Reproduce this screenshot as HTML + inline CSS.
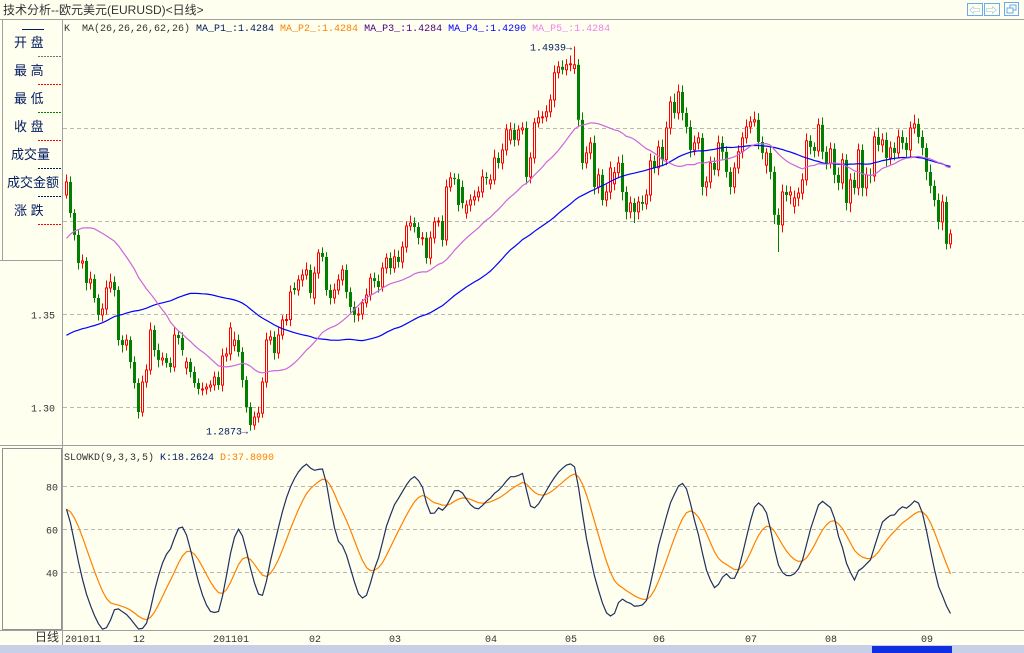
<!DOCTYPE html>
<html><head><meta charset="utf-8">
<style>
html,body{margin:0;padding:0;background:#FFFFEF;}
body{width:1024px;height:653px;overflow:hidden;position:relative;font-family:"Liberation Mono","Noto Sans CJK SC",monospace;}
svg{position:absolute;left:0;top:0;}
text{font-family:"Liberation Mono","Noto Sans CJK SC",monospace;font-size:10px;}
.cn{font-family:"Liberation Sans","Noto Sans CJK SC",sans-serif;font-size:13px;fill:#001a60;}
</style></head>
<body>
<svg id="chart" width="1024" height="653" xmlns="http://www.w3.org/2000/svg">
  <rect x="0" y="0" width="1024" height="653" fill="#FFFFEF"/>
  <text x="3" y="14" class="cn" style="font-size:12px;fill:#333">技术分析--欧元美元(EURUSD)&lt;日线&gt;</text>
  <line x1="0" y1="19.5" x2="1024" y2="19.5" stroke="#A0A0A0"/>
  <g>
    <rect x="967.5" y="3.5" width="15" height="12" fill="none" stroke="#6AAAF0"/>
    <text x="969" y="14" style="font-size:11px;fill:#6AAAF0">⇦</text>
    <rect x="984.5" y="3.5" width="15" height="12" fill="none" stroke="#6AAAF0"/>
    <text x="986" y="14" style="font-size:11px;fill:#6AAAF0">⇨</text>
    <rect x="1004.5" y="2.5" width="14" height="13" fill="none" stroke="#6AAAF0"/>
    <rect x="1010" y="5" width="6" height="5" fill="none" stroke="#6AAAF0"/>
    <rect x="1007" y="8" width="6" height="5" fill="#FFFFEF" stroke="#6AAAF0"/>
  </g>
  <g>
    <line x1="2.5" y1="20" x2="2.5" y2="260" stroke="#A0A0A0"/>
    <line x1="0" y1="260.5" x2="62" y2="260.5" stroke="#A0A0A0"/>
    <line x1="22" y1="29.5" x2="44" y2="29.5" stroke="#001a60"/>
    <text x="14" y="47" class="cn">开  盘</text>
    <line x1="38" y1="56.5" x2="61" y2="56.5" stroke="#707070" stroke-dasharray="2,1"/>
    <text x="14" y="75" class="cn">最  高</text>
    <line x1="38" y1="84.5" x2="61" y2="84.5" stroke="#FF0000" stroke-dasharray="2,1"/>
    <text x="14" y="103" class="cn">最  低</text>
    <line x1="38" y1="112.5" x2="61" y2="112.5" stroke="#008000" stroke-dasharray="2,1"/>
    <text x="14" y="131" class="cn">收  盘</text>
    <line x1="38" y1="140.5" x2="61" y2="140.5" stroke="#FF0000" stroke-dasharray="2,1"/>
    <text x="11" y="159" class="cn">成交量</text>
    <line x1="38" y1="168.5" x2="61" y2="168.5" stroke="#001a60" stroke-dasharray="2,1"/>
    <text x="7" y="187" class="cn">成交金额</text>
    <line x1="38" y1="196.5" x2="61" y2="196.5" stroke="#001a60" stroke-dasharray="2,1"/>
    <text x="14" y="215" class="cn">涨  跌</text>
    <line x1="38" y1="224.5" x2="61" y2="224.5" stroke="#FF0000" stroke-dasharray="2,1"/>
  </g>
  <rect x="2.5" y="448.5" width="59" height="181" fill="none" stroke="#909090"/>
  <line x1="62.5" y1="20" x2="62.5" y2="645" stroke="#A0A0A0"/>
  <line x1="0" y1="445.5" x2="1024" y2="445.5" stroke="#A0A0A0"/>
  <line x1="0" y1="630.5" x2="1024" y2="630.5" stroke="#A0A0A0"/>
  <text x="64" y="31" xml:space="preserve"><tspan fill="#333">K  MA(26,26,26,62,26) </tspan><tspan fill="#001a60">MA_P1_:1.4284 </tspan><tspan fill="#FF8000">MA_P2_:1.4284 </tspan><tspan fill="#4B0082">MA_P3_:1.4284 </tspan><tspan fill="#0000FF">MA_P4_:1.4290 </tspan><tspan fill="#EE82EE">MA_P5_:1.4284</tspan></text>
  <text x="64" y="460" xml:space="preserve"><tspan fill="#333">SLOWKD(9,3,3,5) </tspan><tspan fill="#001a60">K:18.2624 </tspan><tspan fill="#FF8000">D:37.8090</tspan></text>
  <text x="35" y="641" class="cn" style="font-size:12px;fill:#333">日线</text>
  <rect x="0" y="645" width="1024" height="8" fill="#C8D0E8"/>
  <rect x="872" y="646" width="80" height="7" fill="#1030E0"/>
  <g id="grid"></g><g id="candles"></g><g id="lines"></g><g id="labels"></g>
</svg>
<script>
// prices in pips: price = 1 + v/10000
const priorCloses=[3300,3330,3370,3320,3350,3300,3210,3060,3050,2980,2960,2930,3000,2980,2940,2850,2810,2800,2780,2790,2820,2800,
2850,2960,2920,2870,2830,2780,2830,2770,2840,3090,3160,3200,3180,3310,3440,3490,3590,3560,3640,3690,3720,
3810,3860,3980,4040,4020,3990,4130,4130,4070,4020,4100,3930,4020,4080,4040,4040,4000,3970];
const opens=[4140,4210,4043,3925,3774,3785,3667,3688,3586,3495,
3527,3640,3672,3629,3360,3333,3360,3242,3129,2973,
3134,3199,3414,3306,3253,3263,3237,3215,3387,3371,
3210,3242,3188,3129,3097,3097,3107,3118,3161,3118,
3274,3285,3330,3360,3296,3145,3000,2903,2946,2967,
3134,3360,3377,3290,3387,3468,3470,3640,3629,3683,
3710,3737,3586,3720,3828,3807,3629,3586,3629,3683,
3737,3618,3538,3495,3500,3560,3602,3693,3677,3645,
3747,3801,3747,3807,3780,3860,3973,3989,3968,3909,
3910,3801,3909,3995,4000,3898,4183,4232,4225,4183,
4043,4086,4113,4130,4156,4237,4200,4221,4339,4312,
4382,4436,4490,4436,4490,4500,4237,4339,4528,4555,
4560,4587,4651,4797,4829,4813,4840,4820,4840,4544,
4312,4366,4420,4183,4248,4113,4156,4200,4260,4312,
4156,4049,4097,4049,4102,4092,4140,4323,4286,4398,
4330,4500,4640,4581,4694,4581,4506,4382,4420,4447,
4183,4210,4312,4275,4420,4372,4264,4183,4285,4372,
4447,4506,4533,4544,4425,4300,4366,4264,4033,3979,
4156,4140,4080,4124,4150,4221,4431,4398,4377,4517,
4372,4312,4388,4248,4205,4329,4097,4221,4178,4382,
4178,4248,4242,4452,4409,4436,4339,4393,4366,4452,
4420,4382,4500,4522,4452,4393,4264,4189,4113,3995,
4102,3877];
const closes=[4210,4043,3925,3774,3785,3667,3688,3586,3495,3527,
3640,3672,3629,3360,3333,3360,3242,3129,2973,3134,
3199,3414,3306,3253,3263,3237,3215,3387,3371,3306,
3242,3188,3129,3097,3097,3107,3118,3161,3118,3274,
3285,3425,3360,3296,3145,3000,2903,2946,2967,3134,
3360,3377,3290,3387,3468,3470,3618,3629,3683,3710,
3737,3613,3720,3828,3807,3629,3586,3629,3683,3737,
3618,3538,3495,3500,3560,3602,3693,3677,3645,3747,
3801,3747,3807,3780,3860,3973,3989,3968,3909,3910,
3801,3909,3995,4000,3898,4183,4232,4225,4086,4097,
4086,4113,4130,4156,4237,4230,4221,4339,4312,4382,
4490,4490,4436,4490,4500,4237,4339,4528,4555,4560,
4587,4651,4797,4829,4813,4840,4845,4840,4544,4312,
4366,4420,4183,4248,4113,4156,4285,4260,4312,4156,
4049,4097,4049,4102,4092,4140,4323,4286,4398,4330,
4500,4640,4581,4694,4581,4506,4382,4420,4447,4183,
4210,4312,4275,4420,4372,4264,4183,4285,4372,4447,
4506,4533,4544,4425,4366,4366,4264,4033,3979,4156,
4140,4156,4124,4150,4221,4431,4398,4377,4517,4372,
4312,4388,4248,4205,4329,4097,4221,4178,4382,4178,
4248,4242,4452,4409,4436,4339,4393,4366,4452,4420,
4382,4500,4522,4452,4393,4264,4189,4113,3995,4102,
3877,3930];
const wickUp=[40,30,20,25,35,20,40,25,20,30,40,45,30,20,25,30,20,30,25,35,
30,40,25,35,30,25,30,45,20,30,25,20,30,25,35,20,25,30,30,40,
35,30,45,30,25,20,25,30,35,25,40,35,30,40,25,30,35,30,25,30,
40,30,35,20,30,25,30,35,30,25,30,25,30,35,20,35,25,30,35,30,
25,30,40,35,30,25,40,30,25,30,30,35,25,20,30,40,30,25,30,35,
25,30,35,30,40,25,30,45,30,35,30,40,35,25,30,35,30,25,40,30,
35,30,40,30,35,30,45,99,30,40,35,30,40,35,30,40,35,30,35,45,
30,35,25,30,35,30,40,30,35,40,35,30,45,40,35,30,35,40,30,25,
30,35,30,40,35,30,25,30,35,30,40,30,45,35,30,25,30,30,35,40,
35,30,40,30,35,40,30,25,35,40,30,35,30,40,35,30,35,40,35,30,
40,35,30,50,35,40,35,30,40,35,30,35,50,30,35,25,40,30,35,40,30,25];
const wickDn=[20,25,30,35,30,40,35,25,30,35,30,25,35,30,40,30,35,30,35,25,
30,25,35,40,30,25,30,25,35,30,35,30,25,30,35,30,25,30,25,35,
30,35,30,25,40,30,30,25,30,25,30,25,35,30,25,30,35,25,30,35,
25,30,35,30,25,30,35,30,25,30,35,30,40,35,30,25,30,35,30,25,
30,35,25,30,35,30,25,30,35,40,30,35,30,25,35,30,25,30,35,30,
30,35,30,25,30,35,30,25,30,35,30,25,35,30,25,40,35,30,25,30,
25,30,40,30,25,30,35,30,40,35,30,35,40,35,30,35,40,35,30,45,
40,35,60,40,35,30,35,30,40,35,30,35,30,35,40,35,40,30,35,45,
50,35,30,35,40,30,40,35,30,35,30,35,25,40,35,45,40,50,146,40,
35,50,40,45,35,30,40,35,30,40,35,30,45,40,35,40,50,35,40,45,
45,40,30,35,40,45,35,40,30,35,40,35,30,35,40,45,40,35,40,45,30,25];
const priceTicks=[3000,3500,4000,4500];
const priceTickLabels=["1.30","1.35","1.40","1.45"];
const kdTicks=[80,60,40];
const monthLabels=["201011","12","201101","02","03","04","05","06","07","08","09"];
const monthIdx=[0,17,37,61,81,105,125,147,170,190,214];

const NS="http://www.w3.org/2000/svg";
function mk(tag,attrs,parent){const e=document.createElementNS(NS,tag);for(const k in attrs)e.setAttribute(k,attrs[k]);parent.appendChild(e);return e;}
const xOf=i=>66+4*i;
const yP=p=>314-(p-3500)*0.186;
const yK=v=>486+(80-v)*2.15;
const grid=document.getElementById('grid'),cg=document.getElementById('candles'),lg=document.getElementById('lines'),lab=document.getElementById('labels');
const n=closes.length;
const highs=closes.map((c,i)=>Math.max(c,opens[i])+wickUp[i]);
const lows=closes.map((c,i)=>Math.min(c,opens[i])-wickDn[i]);

priceTicks.forEach((p,k)=>{
  const y=Math.round(yP(p))+0.5;
  const l=mk('line',{x1:63,y1:y,x2:1024,y2:y,stroke:'#B8B8B0','stroke-dasharray':'4,3'},grid);
  
  
  if(y>262){const t=mk('text',{x:55,y:y+4,'text-anchor':'end',fill:'#333','font-size':'11'},lab);t.textContent=priceTickLabels[k];
  
  }
});
kdTicks.forEach(v=>{
  const y=Math.round(yK(v))+0.5;
  const l=mk('line',{x1:63,y1:y,x2:1024,y2:y,stroke:'#B8B8B0','stroke-dasharray':'4,3'},grid);
  
  
  const t=mk('text',{x:58,y:y+4,'text-anchor':'end',fill:'#333','font-size':'11'},lab);t.textContent=String(v);
  
  
});
monthLabels.forEach((m,k)=>{
  const t=mk('text',{x:xOf(monthIdx[k])-1,y:642,fill:'#333','font-size':'10'},lab);t.textContent=m;
  
  
});

for(let i=0;i<n;i++){
  const x=xOf(i),o=opens[i],c=closes[i],up=c>=o;
  const col=up?'#FF0000':'#007F00';
  const g=mk('g',{},cg);
  
  
  const yt=yP(Math.max(o,c)),yb=yP(Math.min(o,c));
  mk('line',{x1:x+0.5,y1:yP(highs[i]),x2:x+0.5,y2:yt,stroke:col},g);
  mk('line',{x1:x+0.5,y1:yb,x2:x+0.5,y2:yP(lows[i]),stroke:col},g);
  if(up) mk('rect',{x:x-0.5,y:yt,width:2,height:Math.max(1,yb-yt),fill:'#FFFFEF',stroke:col,'stroke-width':1},g);
  else mk('rect',{x:x-1,y:yt,width:3,height:Math.max(1,yb-yt),fill:col},g);
}

const full=priorCloses.concat(closes),off=priorCloses.length;
function ma(period){const r=[];for(let i=0;i<n;i++){let s=0,cnt=0;for(let j=off+i-period+1;j<=off+i;j++){if(j>=0){s+=full[j];cnt++;}}r.push(s/cnt);}return r;}
function poly(vals,yf,color,name,w){
  const pts=vals.map((v,i)=>xOf(i)+0.5+','+yf(v).toFixed(1)).join(' ');
  const p=mk('polyline',{points:pts,fill:'none',stroke:color,'stroke-width':w||1.2},lg);
  
  
}
poly(ma(62),yP,'#0000FF','ma62-line');
poly(ma(26),yP,'#CC66DD','ma26-line');

// stochastic (recursive smoothing)
const rsv=[];for(let i=0;i<n;i++){let hh=-1e9,ll=1e9;for(let j=Math.max(0,i-8);j<=i;j++){hh=Math.max(hh,highs[j]);ll=Math.min(ll,lows[j]);}rsv.push(hh>ll?100*(closes[i]-ll)/(hh-ll):50);}
function ssma(a,m){const r=[];let p=a[0];a.forEach(v=>{p=((m-1)*p+v)/m;r.push(p);});return r;}
const kLine=ssma(ssma(rsv,3),3),dLine=ssma(kLine,5);
poly(dLine,yK,'#FF8000','kd-d-line',1.2);
poly(kLine,yK,'#1F3060','kd-k-line',1.2);

let hi=0,lo=0;for(let i=0;i<n;i++){if(highs[i]>highs[hi])hi=i;if(lows[i]<lows[lo])lo=i;}
const th=mk('text',{x:xOf(hi)-2,y:yP(highs[hi])+4,'text-anchor':'end',fill:'#001a60','font-size':'12'},lab);th.textContent=(1+highs[hi]/10000).toFixed(4)+'→';


const tl=mk('text',{x:xOf(lo)-2,y:yP(lows[lo])+4,'text-anchor':'end',fill:'#001a60','font-size':'12'},lab);tl.textContent=(1+lows[lo]/10000).toFixed(4)+'→';


</script>
</body></html>
